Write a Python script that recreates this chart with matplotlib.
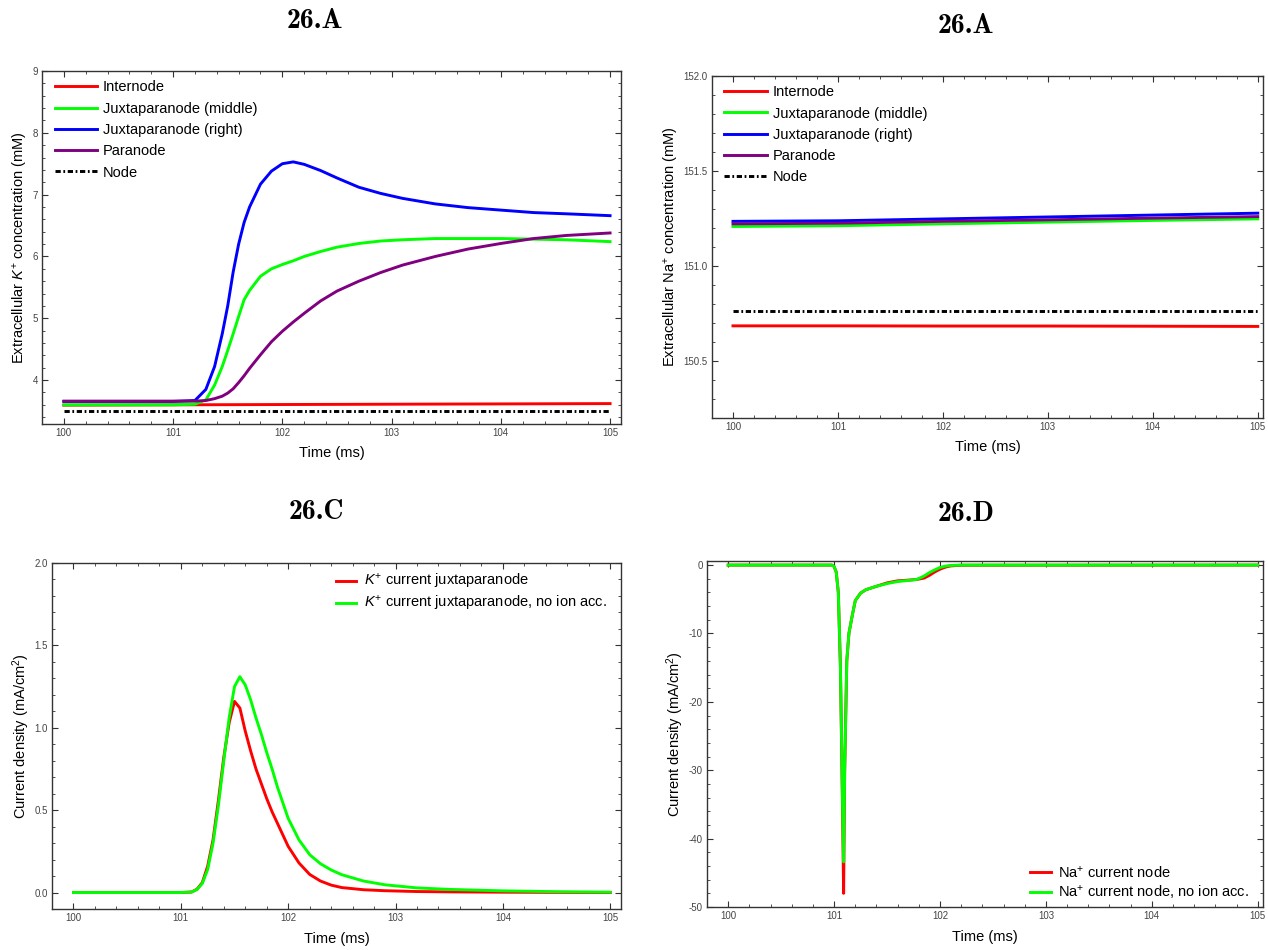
import matplotlib
matplotlib.use("Agg")
import matplotlib.pyplot as plt
from matplotlib.ticker import MultipleLocator

plt.rcParams["font.family"] = ["Liberation Sans", "DejaVu Sans"]
plt.rcParams["mathtext.fontset"] = "custom"
plt.rcParams["mathtext.rm"] = "Liberation Sans"
plt.rcParams["mathtext.it"] = "Liberation Sans:italic"

RED, GREEN, BLUE, PURPLE = "#ff0000", "#00ff00", "#0000ff", "#800080"
NODE_LS = (0, (1.8, 0.9, 0.6, 0.9))

# ---- panel A: extracellular K+ (mM)
t_a = [100, 101.0, 101.2, 101.3, 101.38, 101.45, 101.5, 101.55, 101.6, 101.65,
       101.7, 101.8, 101.9, 102.0, 102.1, 102.2, 102.35, 102.5, 102.7, 102.9,
       103.1, 103.4, 103.7, 104.0, 104.3, 104.6, 105]
k_jxp_right = [3.655, 3.655, 3.67, 3.85, 4.22, 4.75, 5.2, 5.75, 6.2, 6.55,
               6.8, 7.17, 7.38, 7.5, 7.53, 7.49, 7.39, 7.27, 7.12, 7.02,
               6.94, 6.85, 6.79, 6.75, 6.71, 6.69, 6.66]
k_jxp_mid = [3.60, 3.60, 3.61, 3.68, 3.92, 4.22, 4.48, 4.75, 5.03, 5.3,
             5.45, 5.68, 5.8, 5.87, 5.93, 6.0, 6.08, 6.15, 6.21, 6.25,
             6.27, 6.29, 6.29, 6.29, 6.28, 6.27, 6.24]
k_paranode = [3.66, 3.66, 3.66, 3.67, 3.70, 3.74, 3.79, 3.86, 3.96, 4.07,
              4.19, 4.41, 4.62, 4.79, 4.94, 5.08, 5.28, 5.44, 5.6, 5.74,
              5.86, 6.0, 6.12, 6.21, 6.29, 6.34, 6.38]
t_a_flat = [100, 102, 105]
k_internode = [3.595, 3.605, 3.62]
k_node = [3.50, 3.50, 3.50]

# ---- panel B: extracellular Na+ (mM)
t_b = [100, 101, 102, 103, 104, 105]
na_jxp_right = [151.235, 151.238, 151.248, 151.258, 151.268, 151.278]
na_paranode = [151.222, 151.225, 151.235, 151.243, 151.252, 151.26]
na_jxp_mid = [151.208, 151.212, 151.222, 151.231, 151.24, 151.248]
na_internode = [150.685, 150.685, 150.684, 150.684, 150.683, 150.682]
na_node = [150.762] * 6

# ---- panel C: K+ current juxtaparanode (mA/cm2)
t_c = [100, 101.0, 101.1, 101.15, 101.2, 101.25, 101.3, 101.35, 101.4, 101.45,
       101.5, 101.55, 101.6, 101.65, 101.7, 101.75, 101.8, 101.85, 101.9, 102.0,
       102.1, 102.2, 102.3, 102.4, 102.5, 102.7, 102.9, 103.2, 103.5, 104.0,
       104.5, 105]
ik_acc = [0, 0, 0.003, 0.02, 0.06, 0.16, 0.32, 0.56, 0.82, 1.03,
          1.16, 1.12, 0.98, 0.86, 0.75, 0.66, 0.57, 0.49, 0.42, 0.28,
          0.18, 0.11, 0.07, 0.045, 0.03, 0.017, 0.011, 0.006, 0.004, 0.002,
          0.001, 0.0]
ik_noacc = [0, 0, 0.003, 0.018, 0.055, 0.14, 0.3, 0.53, 0.8, 1.06,
            1.25, 1.31, 1.26, 1.17, 1.06, 0.96, 0.85, 0.75, 0.64, 0.45,
            0.32, 0.23, 0.175, 0.137, 0.108, 0.07, 0.047, 0.028, 0.019, 0.01,
            0.005, 0.002]

# ---- panel D: Na+ current node (mA/cm2)
t_d = [100, 100.98, 101.0, 101.02, 101.04, 101.06, 101.08, 101.09, 101.1, 101.12,
       101.14, 101.17, 101.2, 101.25, 101.3, 101.4, 101.5, 101.6, 101.7, 101.78,
       101.85, 101.9, 101.95, 102.0, 102.05, 102.1, 102.2, 105]
ina_acc = [0, 0, -0.2, -1.0, -4, -15, -36, -48, -30, -14,
           -10, -7.5, -5.2, -4.1, -3.6, -3.1, -2.6, -2.3, -2.2, -2.1,
           -1.9, -1.5, -1.0, -0.6, -0.3, -0.12, -0.02, 0]
ina_noacc = [0, 0, -0.2, -1.0, -4, -15, -35, -43.4, -30, -14,
             -10, -7.5, -5.2, -4.1, -3.6, -3.1, -2.7, -2.4, -2.25, -2.1,
             -1.6, -1.1, -0.7, -0.35, -0.15, -0.05, 0, 0]

fig = plt.figure(figsize=(12.68, 9.5), dpi=100)
W, H = 1268, 950
LW = 2.1


def rect(l, t, r, b):
    return [l / W, 1 - b / H, (r - l) / W, (b - t) / H]


def panel(box, xlim, ylim, ymaj, ymin, fmt):
    ax = fig.add_axes(rect(*box))
    ax.set_xlim(*xlim)
    ax.set_ylim(*ylim)
    ax.xaxis.set_major_locator(MultipleLocator(1))
    ax.xaxis.set_minor_locator(MultipleLocator(0.2))
    ax.yaxis.set_major_locator(MultipleLocator(ymaj))
    ax.yaxis.set_minor_locator(MultipleLocator(ymin))
    ax.yaxis.set_major_formatter(plt.FuncFormatter(lambda v, p: fmt.format(v)))
    ax.tick_params(which="both", direction="in", top=True, right=True,
                   labelsize=7, labelcolor="#444444", color="#333333", pad=3)
    ax.tick_params(which="major", length=4, width=0.8)
    ax.tick_params(which="minor", length=2.2, width=0.6)
    for s in ax.spines.values():
        s.set_color("#333333")
        s.set_linewidth(1.0)
    ax.set_xlabel("Time (ms)", fontsize=10.5, labelpad=6)
    return ax


LEG = dict(frameon=False, fontsize=10.5, borderaxespad=0.0)

# A
ax = panel((42, 71, 621, 424), (99.8, 105.1), (3.29, 9.0), 1, 0.2, "{:.0f}")
ax.plot(t_a_flat, k_internode, color=RED, lw=LW, label="Internode")
ax.plot(t_a, k_jxp_mid, color=GREEN, lw=LW, label="Juxtaparanode (middle)")
ax.plot(t_a, k_jxp_right, color=BLUE, lw=LW, label="Juxtaparanode (right)")
ax.plot(t_a, k_paranode, color=PURPLE, lw=LW, label="Paranode")
ax.plot(t_a_flat, k_node, color="black", lw=LW, ls=NODE_LS, label="Node")
ax.set_ylabel("Extracellular $K^{+}$ concentration (mM)", fontsize=10.5, labelpad=2)
ax.legend(loc="upper left", bbox_to_anchor=(0.012, 0.99), handlelength=2.9,
          handletextpad=0.4, labelspacing=0.5, **LEG)

# B
ax = panel((712, 76, 1263, 418), (99.8, 105.05), (150.2, 152.0), 0.5, 0.1, "{:.1f}")
ax.plot(t_b, na_internode, color=RED, lw=LW, label="Internode")
ax.plot(t_b, na_jxp_mid, color=GREEN, lw=LW, label="Juxtaparanode (middle)")
ax.plot(t_b, na_jxp_right, color=BLUE, lw=LW, label="Juxtaparanode (right)")
ax.plot(t_b, na_paranode, color=PURPLE, lw=LW, label="Paranode")
ax.plot(t_b, na_node, color="black", lw=LW, ls=NODE_LS, label="Node")
ax.set_ylabel("Extracellular Na$^{+}$ concentration (mM)", fontsize=10.5, labelpad=2)
ax.legend(loc="upper left", bbox_to_anchor=(0.012, 0.99), handlelength=2.9,
          handletextpad=0.4, labelspacing=0.5, **LEG)

# C
ax = panel((52, 563, 621, 909), (99.8, 105.1), (-0.1, 2.0), 0.5, 0.1, "{:.1f}")
ax.plot(t_c, ik_acc, color=RED, lw=LW, label="$K^{+}$ current juxtaparanode")
ax.plot(t_c, ik_noacc, color=GREEN, lw=LW, label="$K^{+}$ current juxtaparanode, no ion acc.")
ax.set_ylabel("Current density (mA/cm$^{2}$)", fontsize=10.5, labelpad=2)
ax.legend(loc="upper right", bbox_to_anchor=(0.985, 0.99), handlelength=1.4,
          handletextpad=0.5, labelspacing=0.2, **LEG)

# D
ax = panel((707, 561, 1263, 907), (99.8, 105.05), (-50, 0.6), 10, 2, "{:.0f}")
ax.plot(t_d, ina_acc, color=RED, lw=LW, label="Na$^{+}$ current node")
ax.plot(t_d, ina_noacc, color=GREEN, lw=LW, label="Na$^{+}$ current node, no ion acc.")
ax.set_ylabel("Current density (mA/cm$^{2}$)", fontsize=10.5, labelpad=2)
ax.legend(loc="lower right", bbox_to_anchor=(0.985, 0.0), handlelength=1.4,
          handletextpad=0.5, labelspacing=0.2, **LEG)

for x, y, s in [(315, 21, "26.A"), (966, 26, "26.A"), (316, 512, "26.C"), (966, 514, "26.D")]:
    fig.text(x / W, 1 - y / H, s, ha="center", va="center", fontsize=20,
             family=["cmb10", "DejaVu Serif"], fontweight="bold")

fig.savefig("out.png", dpi=100, facecolor="white")
